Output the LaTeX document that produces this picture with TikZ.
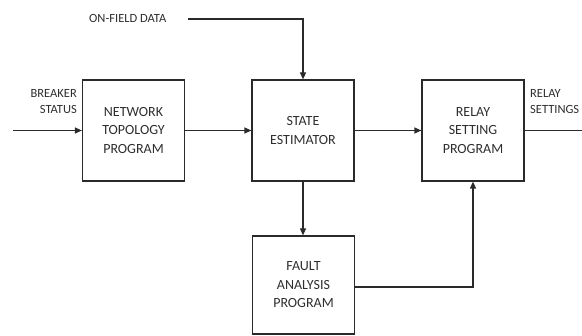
\documentclass[tikz,border=0pt]{standalone}
\usepackage{fontspec}
\setmainfont{Carlito}
\usetikzlibrary{arrows.meta}
\definecolor{ln}{HTML}{2A2A2A}
\definecolor{tx}{HTML}{2E2E2E}
\begin{document}
\begin{tikzpicture}[x=1pt,y=-1pt,
  blk/.style={draw=ln,line width=1.2pt,minimum width=102pt,minimum height=101pt,inner sep=0pt,
    align=center,text=tx,font=\fontsize{14}{18.5}\selectfont},
  lbl/.style={text=tx,font=\fontsize{12.5}{16}\selectfont,inner sep=0pt},
  conn/.style={draw=ln,line width=1.2pt},
  arr/.style={conn,-{Triangle[length=7pt,width=6pt]}}]
\useasboundingbox (0,0) rectangle (582,336);
\node[blk] (ntp) at (133.5,130.5) {NETWORK\\TOPOLOGY\\PROGRAM};
\node[blk] (se) at (303,130.5) {STATE\\ESTIMATOR};
\node[blk] (rsp) at (473,130.5) {RELAY\\SETTING\\PROGRAM};
\node[blk,minimum height=98pt] (fap) at (303.5,285) {FAULT\\ANALYSIS\\PROGRAM};
\node[lbl,anchor=west] (ofd) at (89,18) {ON-FIELD DATA};
\node[lbl,align=right,anchor=east] (bs) at (77,102) {BREAKER\\STATUS};
\node[lbl,align=left,anchor=west] (rs) at (530,102) {RELAY\\SETTINGS};
\coordinate (inp) at (13,130.5);
\coordinate (outp) at (582,130.5);
\coordinate (ofs) at (188,19);
\draw[arr] (inp) -- (ntp.west);
\draw[arr] (ntp.east) -- (se.west);
\draw[arr] (se.east) -- (rsp.west);
\draw[conn] (rsp.east) -- (outp);
\draw[arr] (ofs) -| (se.north);
\draw[arr] (se.south) -- (se.south |- fap.north);
\draw[arr] (fap.east |- 0,287) -| (rsp.south);
\end{tikzpicture}
\end{document}
